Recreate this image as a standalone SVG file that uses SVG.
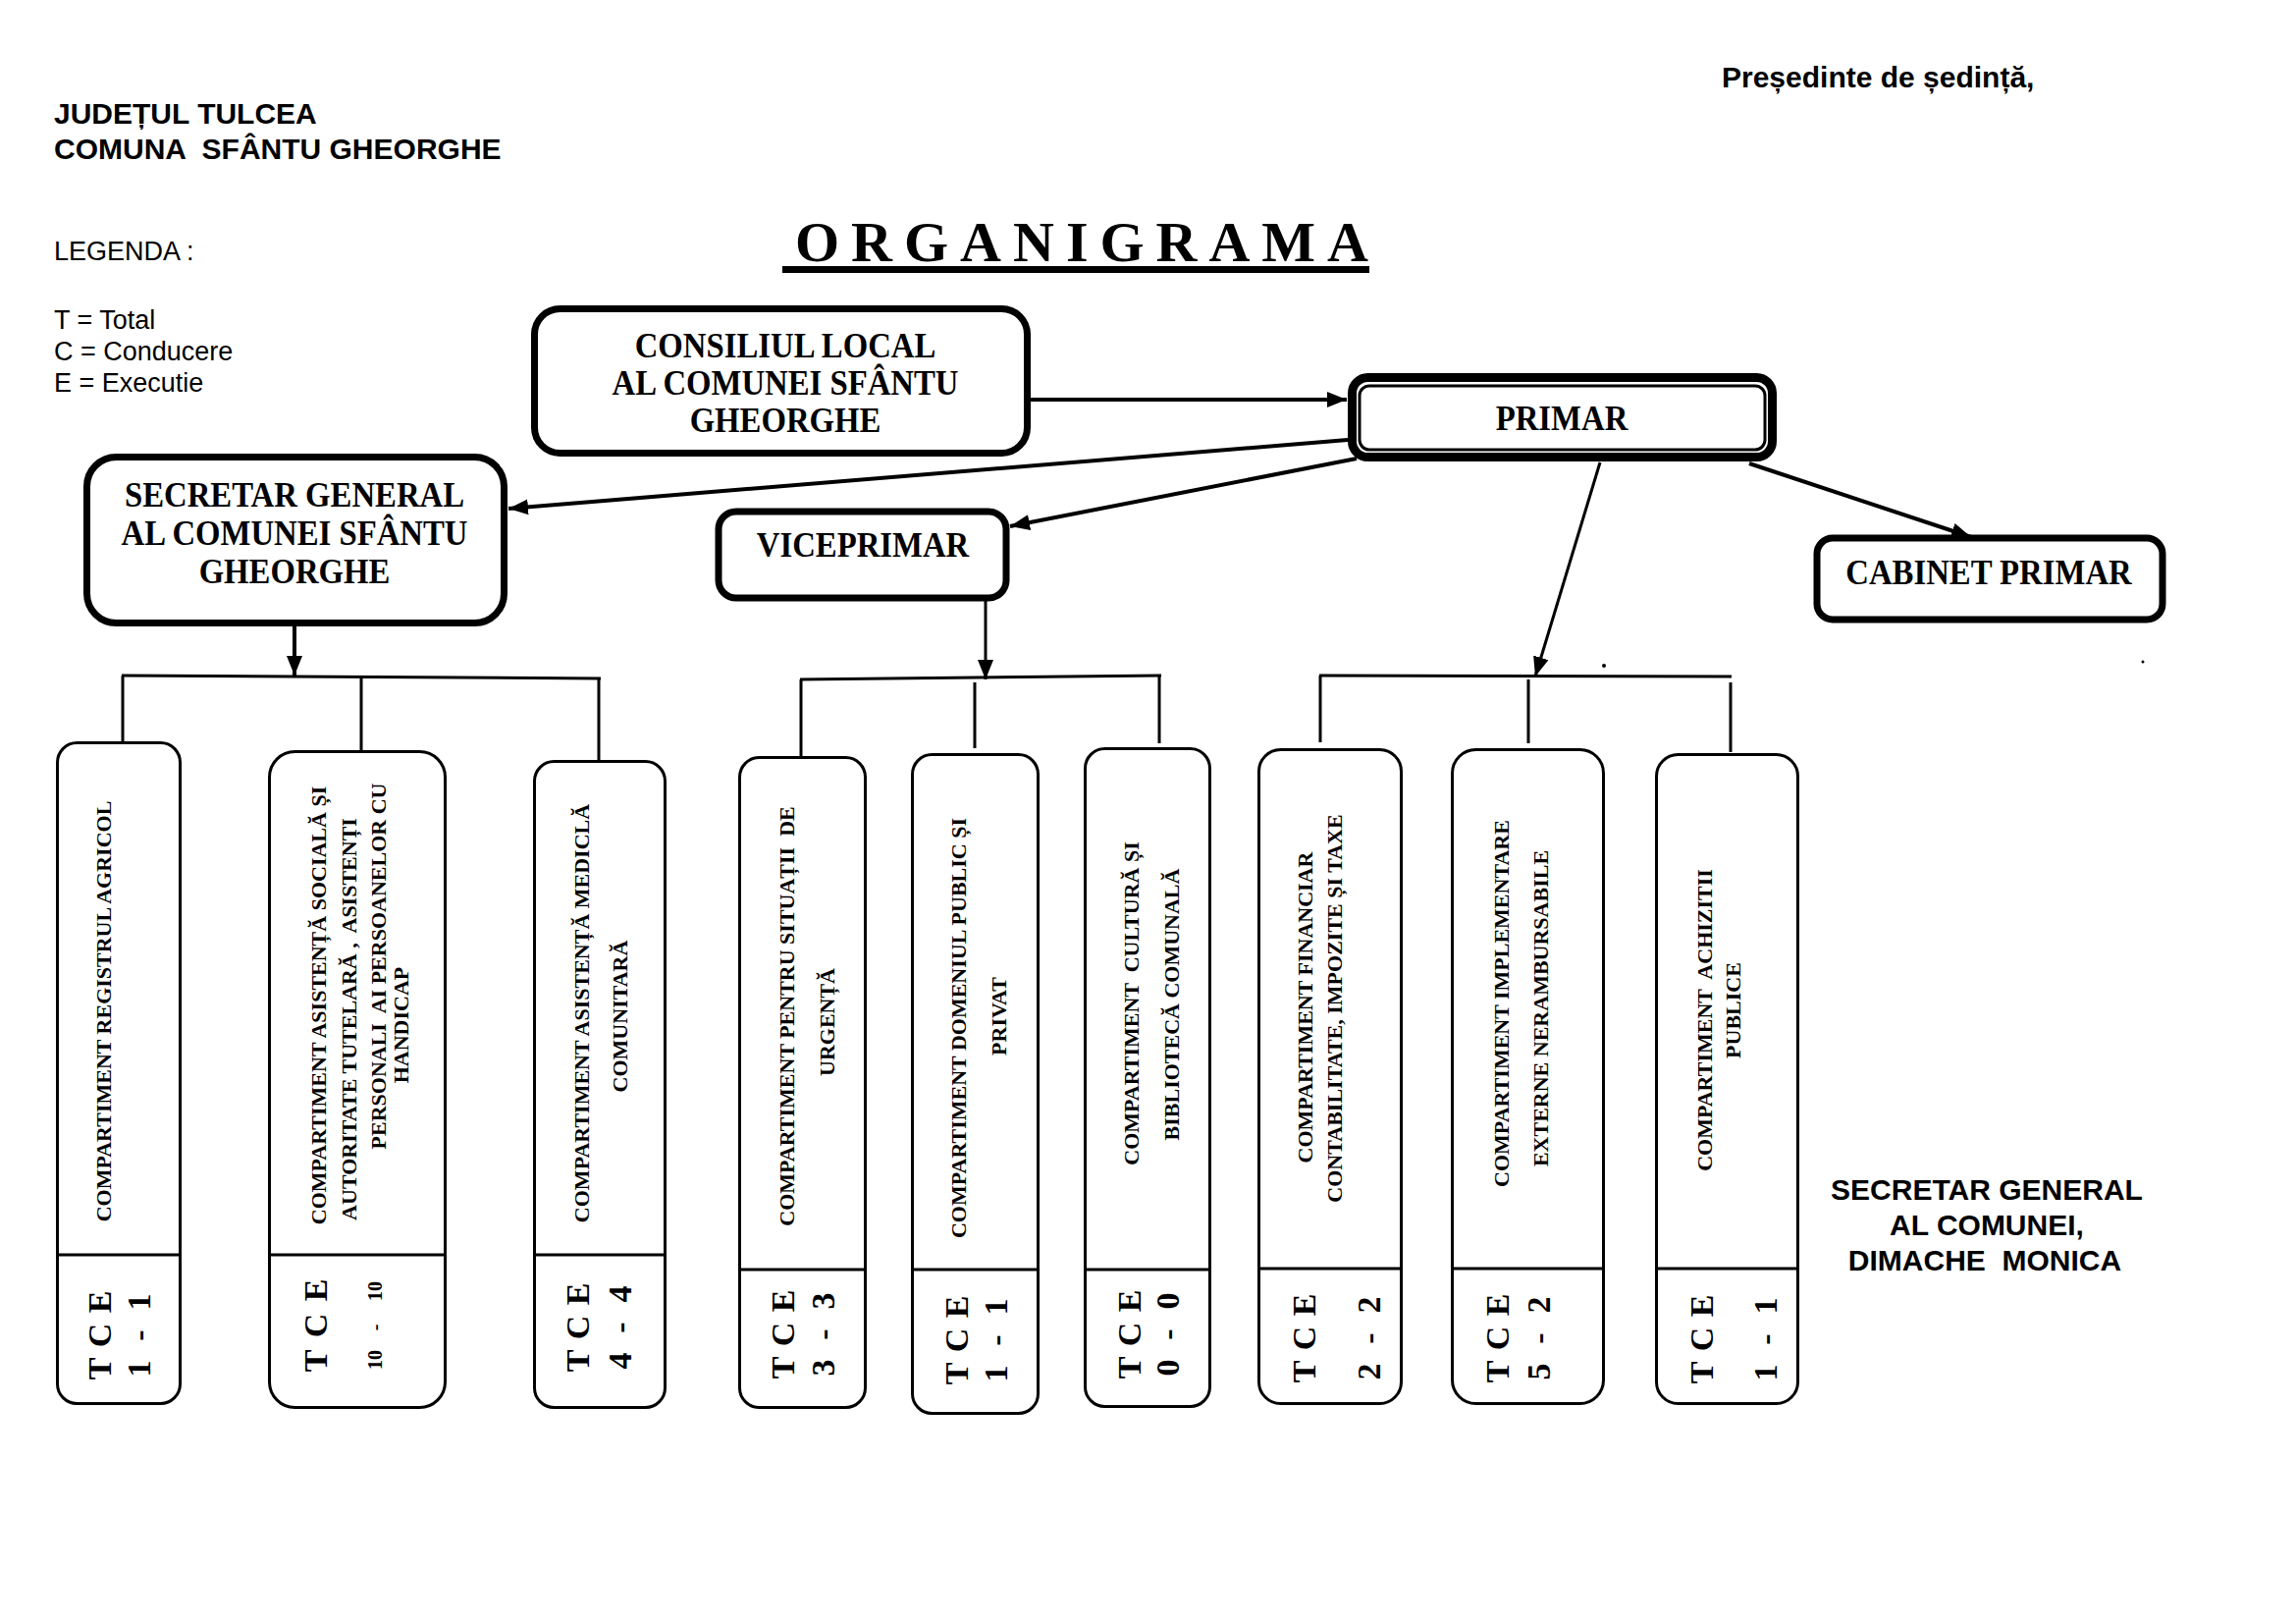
<svg xmlns="http://www.w3.org/2000/svg" width="2339" height="1654" viewBox="0 0 2339 1654">
<style>
.sans{font-family:"Liberation Sans",Arial,sans-serif;fill:#000}
.sb{font-family:"Liberation Sans",Arial,sans-serif;font-weight:bold;font-size:30px;fill:#000}
.sr{font-family:"Liberation Sans",Arial,sans-serif;font-size:27px;fill:#000}
.ser{font-family:"Liberation Serif","Times New Roman",serif;font-weight:bold;fill:#000}
.hd{font-size:36px;text-anchor:middle}
.lab{font-size:22px;text-anchor:middle}
.tce{font-size:34px;text-anchor:middle}
.n2{font-size:20px;text-anchor:middle}
.thick{fill:#fff;stroke:#000;stroke-width:7}
.box{fill:#fff;stroke:#000;stroke-width:3}
.div{stroke:#000;stroke-width:3}
</style>
<defs>
<marker id="ah" viewBox="0 0 20 16" markerWidth="20" markerHeight="16" markerUnits="userSpaceOnUse" refX="20" refY="8" orient="auto"><path d="M0,0 L20,8 L0,16 Z" fill="#000"/></marker>
</defs>
<rect width="2339" height="1654" fill="#fff"/>

<g id="header">
<text class="sb" x="1754" y="89">Președinte de ședință,</text>
<text class="sb" x="55" y="126">JUDEȚUL TULCEA</text>
<text class="sb" x="55" y="162" xml:space="preserve">COMUNA  SFÂNTU GHEORGHE</text>
<text class="sr" x="55" y="265">LEGENDA :</text>
<text class="sr" x="55" y="335">T = Total</text>
<text class="sr" x="55" y="367">C = Conducere</text>
<text class="sr" x="55" y="399">E = Executie</text>
<text class="ser" x="810" y="266" style="font-size:58px;letter-spacing:12px">ORGANIGRAMA</text>
<rect x="797" y="271" width="598" height="7" fill="#000"/>
<text class="sb" x="2024" y="1222" text-anchor="middle">SECRETAR GENERAL</text>
<text class="sb" x="2024" y="1258" text-anchor="middle">AL COMUNEI,</text>
<text class="sb" x="2022" y="1294" text-anchor="middle" xml:space="preserve">DIMACHE  MONICA</text>
</g>

<g id="connectors" fill="none" stroke="#000">
<line x1="1050" y1="407" x2="1372" y2="407" stroke-width="4" marker-end="url(#ah)"/>
<line x1="1373" y1="448" x2="518" y2="518" stroke-width="4" marker-end="url(#ah)"/>
<line x1="1382" y1="467" x2="1029" y2="536" stroke-width="4" marker-end="url(#ah)"/>
<line x1="1630" y1="471" x2="1564" y2="689" stroke-width="3" marker-end="url(#ah)"/>
<line x1="1782" y1="472" x2="2008" y2="547" stroke-width="4" marker-end="url(#ah)"/>
<line x1="300" y1="638" x2="300" y2="688" stroke-width="4" marker-end="url(#ah)"/>
<line x1="1004" y1="612" x2="1004" y2="692" stroke-width="3" marker-end="url(#ah)"/>
<g stroke-width="3">
<line x1="124" y1="688" x2="612" y2="691"/>
<line x1="125" y1="688" x2="125" y2="755"/>
<line x1="368" y1="690" x2="368" y2="764"/>
<line x1="610" y1="691" x2="610" y2="774"/>
<line x1="815" y1="692" x2="1183" y2="688"/>
<line x1="816" y1="692" x2="816" y2="770"/>
<line x1="993" y1="695" x2="993" y2="762"/>
<line x1="1181" y1="688" x2="1181" y2="757"/>
<line x1="1344" y1="688" x2="1764" y2="689"/>
<line x1="1345" y1="688" x2="1345" y2="756"/>
<line x1="1557" y1="692" x2="1557" y2="757"/>
<line x1="1763" y1="695" x2="1763" y2="766"/>
</g>
</g>
<circle cx="1634" cy="678" r="2" fill="#000"/>
<circle cx="2183" cy="674" r="1.5" fill="#000"/>

<g id="consiliul">
<rect class="thick" x="544.5" y="314.5" width="502" height="147" rx="26"/>
<text class="ser hd" transform="translate(800,0) scale(0.91,1)" x="0" y="364">CONSILIUL LOCAL</text>
<text class="ser hd" transform="translate(800,0) scale(0.91,1)" x="0" y="402">AL COMUNEI SFÂNTU</text>
<text class="ser hd" transform="translate(800,0) scale(0.91,1)" x="0" y="440">GHEORGHE</text>
</g>

<g id="primar">
<rect x="1377.5" y="384.5" width="428" height="81" rx="16" fill="#fff" stroke="#000" stroke-width="9"/>
<rect x="1385" y="393" width="413" height="65" rx="10" fill="none" stroke="#000" stroke-width="3"/>
<text class="ser hd" transform="translate(1591,0) scale(0.91,1)" x="0" y="438">PRIMAR</text>
</g>

<g id="secretar">
<rect class="thick" x="88.5" y="465.5" width="425" height="169" rx="30"/>
<text class="ser hd" transform="translate(300,0) scale(0.91,1)" x="0" y="516">SECRETAR GENERAL</text>
<text class="ser hd" transform="translate(300,0) scale(0.91,1)" x="0" y="555">AL COMUNEI SFÂNTU</text>
<text class="ser hd" transform="translate(300,0) scale(0.91,1)" x="0" y="594">GHEORGHE</text>
</g>

<g id="viceprimar">
<rect class="thick" x="732" y="521" width="293" height="88" rx="18"/>
<text class="ser hd" transform="translate(879,0) scale(0.91,1)" x="0" y="567">VICEPRIMAR</text>
</g>

<g id="cabinet">
<rect class="thick" x="1851" y="548" width="352" height="83" rx="16"/>
<text class="ser hd" transform="translate(2026,0) scale(0.91,1)" x="0" y="595">CABINET PRIMAR</text>
</g>

<g id="c1">
<rect class="box" x="58.5" y="756.5" width="125" height="673" rx="20"/>
<line class="div" x1="58" y1="1278" x2="184" y2="1278"/>
<text class="ser lab" transform="translate(106,1030) rotate(-90)" y="7">COMPARTIMENT REGISTRUL AGRICOL</text>
<text class="ser tce" transform="translate(102,1360) rotate(-90)" y="11"><tspan x="-34">T</tspan><tspan x="0">C</tspan><tspan x="34">E</tspan></text>
<text class="ser tce" transform="translate(142,1360) rotate(-90)" y="11"><tspan x="-34">1</tspan><tspan x="0">-</tspan><tspan x="34">1</tspan></text>
</g>

<g id="c2">
<rect class="box" x="274.5" y="765.5" width="179" height="668" rx="26"/>
<line class="div" x1="274" y1="1278" x2="454" y2="1278"/>
<text class="ser lab" transform="translate(325,1024) rotate(-90)" y="7">COMPARTIMENT ASISTENȚĂ SOCIALĂ ȘI</text>
<text class="ser lab" transform="translate(356,1038) rotate(-90)" y="7" xml:space="preserve">AUTORITATE TUTELARĂ ,  ASISTENȚI</text>
<text class="ser lab" transform="translate(386,984) rotate(-90)" y="7" xml:space="preserve">PERSONALI  AI PERSOANELOR CU</text>
<text class="ser lab" transform="translate(409,1044) rotate(-90)" y="7">HANDICAP</text>
<text class="ser tce" transform="translate(322,1350) rotate(-90)" y="11"><tspan x="-36">T</tspan><tspan x="0">C</tspan><tspan x="36">E</tspan></text>
<text class="ser n2" transform="translate(382,1350) rotate(-90)" y="7"><tspan x="-35">10</tspan><tspan x="-2">-</tspan><tspan x="35">10</tspan></text>
</g>

<g id="c3">
<rect class="box" x="544.5" y="775.5" width="133" height="658" rx="20"/>
<line class="div" x1="544" y1="1278" x2="678" y2="1278"/>
<text class="ser lab" transform="translate(593,1032) rotate(-90)" y="7">COMPARTIMENT ASISTENȚĂ MEDICLĂ</text>
<text class="ser lab" transform="translate(632,1035) rotate(-90)" y="7">COMUNITARĂ</text>
<text class="ser tce" transform="translate(589,1352) rotate(-90)" y="11"><tspan x="-34">T</tspan><tspan x="0">C</tspan><tspan x="34">E</tspan></text>
<text class="ser tce" transform="translate(632,1352) rotate(-90)" y="11"><tspan x="-34">4</tspan><tspan x="0">-</tspan><tspan x="34">4</tspan></text>
</g>

<g id="c4">
<rect class="box" x="753.5" y="771.5" width="128" height="662" rx="20"/>
<line class="div" x1="753" y1="1293" x2="882" y2="1293"/>
<text class="ser lab" transform="translate(802,1035) rotate(-90)" y="7" xml:space="preserve">COMPARTIMENT PENTRU SITUAȚII  DE</text>
<text class="ser lab" transform="translate(843,1041) rotate(-90)" y="7">URGENȚĂ</text>
<text class="ser tce" transform="translate(798,1359) rotate(-90)" y="11"><tspan x="-34">T</tspan><tspan x="0">C</tspan><tspan x="34">E</tspan></text>
<text class="ser tce" transform="translate(839,1359) rotate(-90)" y="11"><tspan x="-34">3</tspan><tspan x="0">-</tspan><tspan x="34">3</tspan></text>
</g>

<g id="c5">
<rect class="box" x="929.5" y="768.5" width="128" height="671" rx="20"/>
<line class="div" x1="929" y1="1293" x2="1058" y2="1293"/>
<text class="ser lab" transform="translate(977,1047) rotate(-90)" y="7">COMPARTIMENT DOMENIUL PUBLIC ȘI</text>
<text class="ser lab" transform="translate(1018,1035) rotate(-90)" y="7">PRIVAT</text>
<text class="ser tce" transform="translate(975,1365) rotate(-90)" y="11"><tspan x="-34">T</tspan><tspan x="0">C</tspan><tspan x="34">E</tspan></text>
<text class="ser tce" transform="translate(1015,1365) rotate(-90)" y="11"><tspan x="-34">1</tspan><tspan x="0">-</tspan><tspan x="34">1</tspan></text>
</g>

<g id="c6">
<rect class="box" x="1105.5" y="762.5" width="127" height="670" rx="20"/>
<line class="div" x1="1105" y1="1293" x2="1233" y2="1293"/>
<text class="ser lab" transform="translate(1153,1022) rotate(-90)" y="7" xml:space="preserve">COMPARTIMENT  CULTURĂ ȘI</text>
<text class="ser lab" transform="translate(1194,1023) rotate(-90)" y="7">BIBLIOTECĂ COMUNALĂ</text>
<text class="ser tce" transform="translate(1151,1359) rotate(-90)" y="11"><tspan x="-34">T</tspan><tspan x="0">C</tspan><tspan x="34">E</tspan></text>
<text class="ser tce" transform="translate(1190,1359) rotate(-90)" y="11"><tspan x="-34">0</tspan><tspan x="0">-</tspan><tspan x="34">0</tspan></text>
</g>

<g id="c7">
<rect class="box" x="1282.5" y="763.5" width="145" height="666" rx="22"/>
<line class="div" x1="1282" y1="1292" x2="1428" y2="1292"/>
<text class="ser lab" transform="translate(1330,1026) rotate(-90)" y="7">COMPARTIMENT FINANCIAR</text>
<text class="ser lab" transform="translate(1360,1027) rotate(-90)" y="7">CONTABILITATE, IMPOZITE ȘI TAXE</text>
<text class="ser tce" transform="translate(1329,1363) rotate(-90)" y="11"><tspan x="-34">T</tspan><tspan x="0">C</tspan><tspan x="34">E</tspan></text>
<text class="ser tce" transform="translate(1395,1363) rotate(-90)" y="11"><tspan x="-34">2</tspan><tspan x="0">-</tspan><tspan x="34">2</tspan></text>
</g>

<g id="c8">
<rect class="box" x="1479.5" y="763.5" width="154" height="666" rx="24"/>
<line class="div" x1="1479" y1="1292" x2="1634" y2="1292"/>
<text class="ser lab" transform="translate(1530,1022) rotate(-90)" y="7">COMPARTIMENT IMPLEMENTARE</text>
<text class="ser lab" transform="translate(1570,1027) rotate(-90)" y="7">EXTERNE NERAMBURSABILE</text>
<text class="ser tce" transform="translate(1526,1363) rotate(-90)" y="11"><tspan x="-34">T</tspan><tspan x="0">C</tspan><tspan x="34">E</tspan></text>
<text class="ser tce" transform="translate(1568,1363) rotate(-90)" y="11"><tspan x="-34">5</tspan><tspan x="0">-</tspan><tspan x="34">2</tspan></text>
</g>

<g id="c9">
<rect class="box" x="1687.5" y="768.5" width="144" height="661" rx="22"/>
<line class="div" x1="1687" y1="1292" x2="1832" y2="1292"/>
<text class="ser lab" transform="translate(1737,1039) rotate(-90)" y="7" xml:space="preserve">COMPARTIMENT  ACHIZITII</text>
<text class="ser lab" transform="translate(1766,1029) rotate(-90)" y="7">PUBLICE</text>
<text class="ser tce" transform="translate(1734,1364) rotate(-90)" y="11"><tspan x="-34">T</tspan><tspan x="0">C</tspan><tspan x="34">E</tspan></text>
<text class="ser tce" transform="translate(1799,1364) rotate(-90)" y="11"><tspan x="-34">1</tspan><tspan x="0">-</tspan><tspan x="34">1</tspan></text>
</g>
</svg>
